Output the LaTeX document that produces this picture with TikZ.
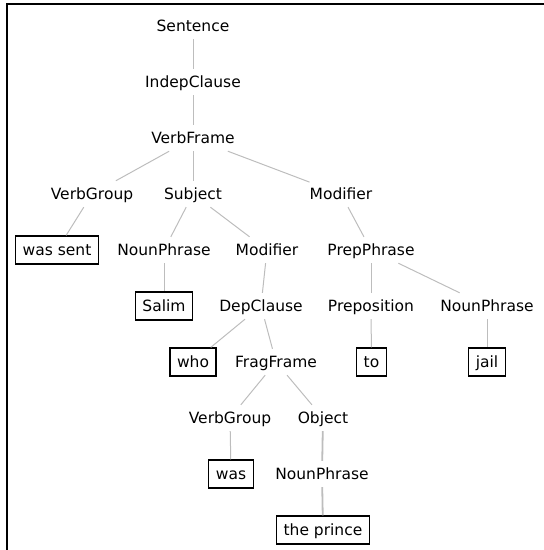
\documentclass[tikz,border=0pt]{standalone}
\usepackage{fontspec}
\setmainfont{DejaVu Sans}
\definecolor{linkgray}{HTML}{BDBDBD}
\begin{document}
\begin{tikzpicture}[x=1pt,y=-1pt,
  lbl/.style={inner sep=0pt, minimum height=26pt, text height=14pt, text depth=3pt,
    font=\fontsize{15.5}{18}\selectfont},
  leaf/.style={draw=black, line width=1.2pt, inner xsep=7pt, inner ysep=0pt,
    minimum height=28pt, text height=14pt, text depth=3pt,
    font=\fontsize{15.5}{18}\selectfont},
  link/.style={draw=linkgray, line width=1pt},
  thicklink/.style={draw=linkgray, line width=1.8pt},
  frame/.style={draw=black, line width=2pt}]
\useasboundingbox (0,0) rectangle (544,550);
\draw[frame] (7,550) -- (7,4) -- (544,4);
% row 0-2
\node[lbl] (sent) at (193,26) {Sentence};
\node[lbl] (indep) at (193,82) {IndepClause};
\node[lbl] (vframe) at (193,138) {VerbFrame};
% row 3
\node[lbl] (vg1) at (92,194) {VerbGroup};
\node[lbl] (subj) at (193,194) {Subject};
\node[lbl] (mod1) at (341,194) {Modifier};
% row 4
\node[leaf] (wassent) at (57,250) {was sent};
\node[lbl] (np1) at (164,250) {NounPhrase};
\node[lbl] (mod2) at (267,250) {Modifier};
\node[lbl] (pp) at (371,250) {PrepPhrase};
% row 5
\node[leaf] (salim) at (164,306) {Salim};
\node[lbl] (dep) at (261,306) {DepClause};
\node[lbl] (prep) at (371,306) {Preposition};
\node[lbl] (np2) at (487,306) {NounPhrase};
% row 6
\node[leaf] (who) at (193,362) {who};
\node[lbl] (frag) at (276,362) {FragFrame};
\node[leaf] (to) at (371.5,362) {to};
\node[leaf] (jail) at (487,362) {jail};
% row 7
\node[lbl] (vg2) at (230,418) {VerbGroup};
\node[lbl] (obj) at (323,418) {Object};
% row 8
\node[leaf] (was) at (231,474) {was};
\node[lbl] (np3) at (322,474) {NounPhrase};
% row 9
\node[leaf] (prince) at (323,530) {the prince};
% links
\draw[link] (sent) -- (indep);
\draw[link] (indep) -- (vframe);
\draw[link] (vframe) -- (vg1);
\draw[link] (vframe) -- (subj);
\draw[link] (vframe) -- (mod1);
\draw[link] (vg1) -- (wassent);
\draw[link] (subj) -- (np1);
\draw[link] (subj) -- (mod2);
\draw[link] (mod1) -- (pp);
\draw[link] (np1) -- (salim);
\draw[link] (mod2) -- (dep);
\draw[link] (pp) -- (prep);
\draw[link] (pp) -- (np2);
\draw[link] (dep) -- (who);
\draw[link] (dep) -- (frag);
\draw[link] (prep) -- (to);
\draw[link] (np2) -- (jail);
\draw[link] (frag) -- (vg2);
\draw[link] (frag) -- (obj);
\draw[link] (vg2) -- (was);
\draw[thicklink] (obj) -- (np3);
\draw[thicklink] (np3) -- (prince);
\end{tikzpicture}
\end{document}
